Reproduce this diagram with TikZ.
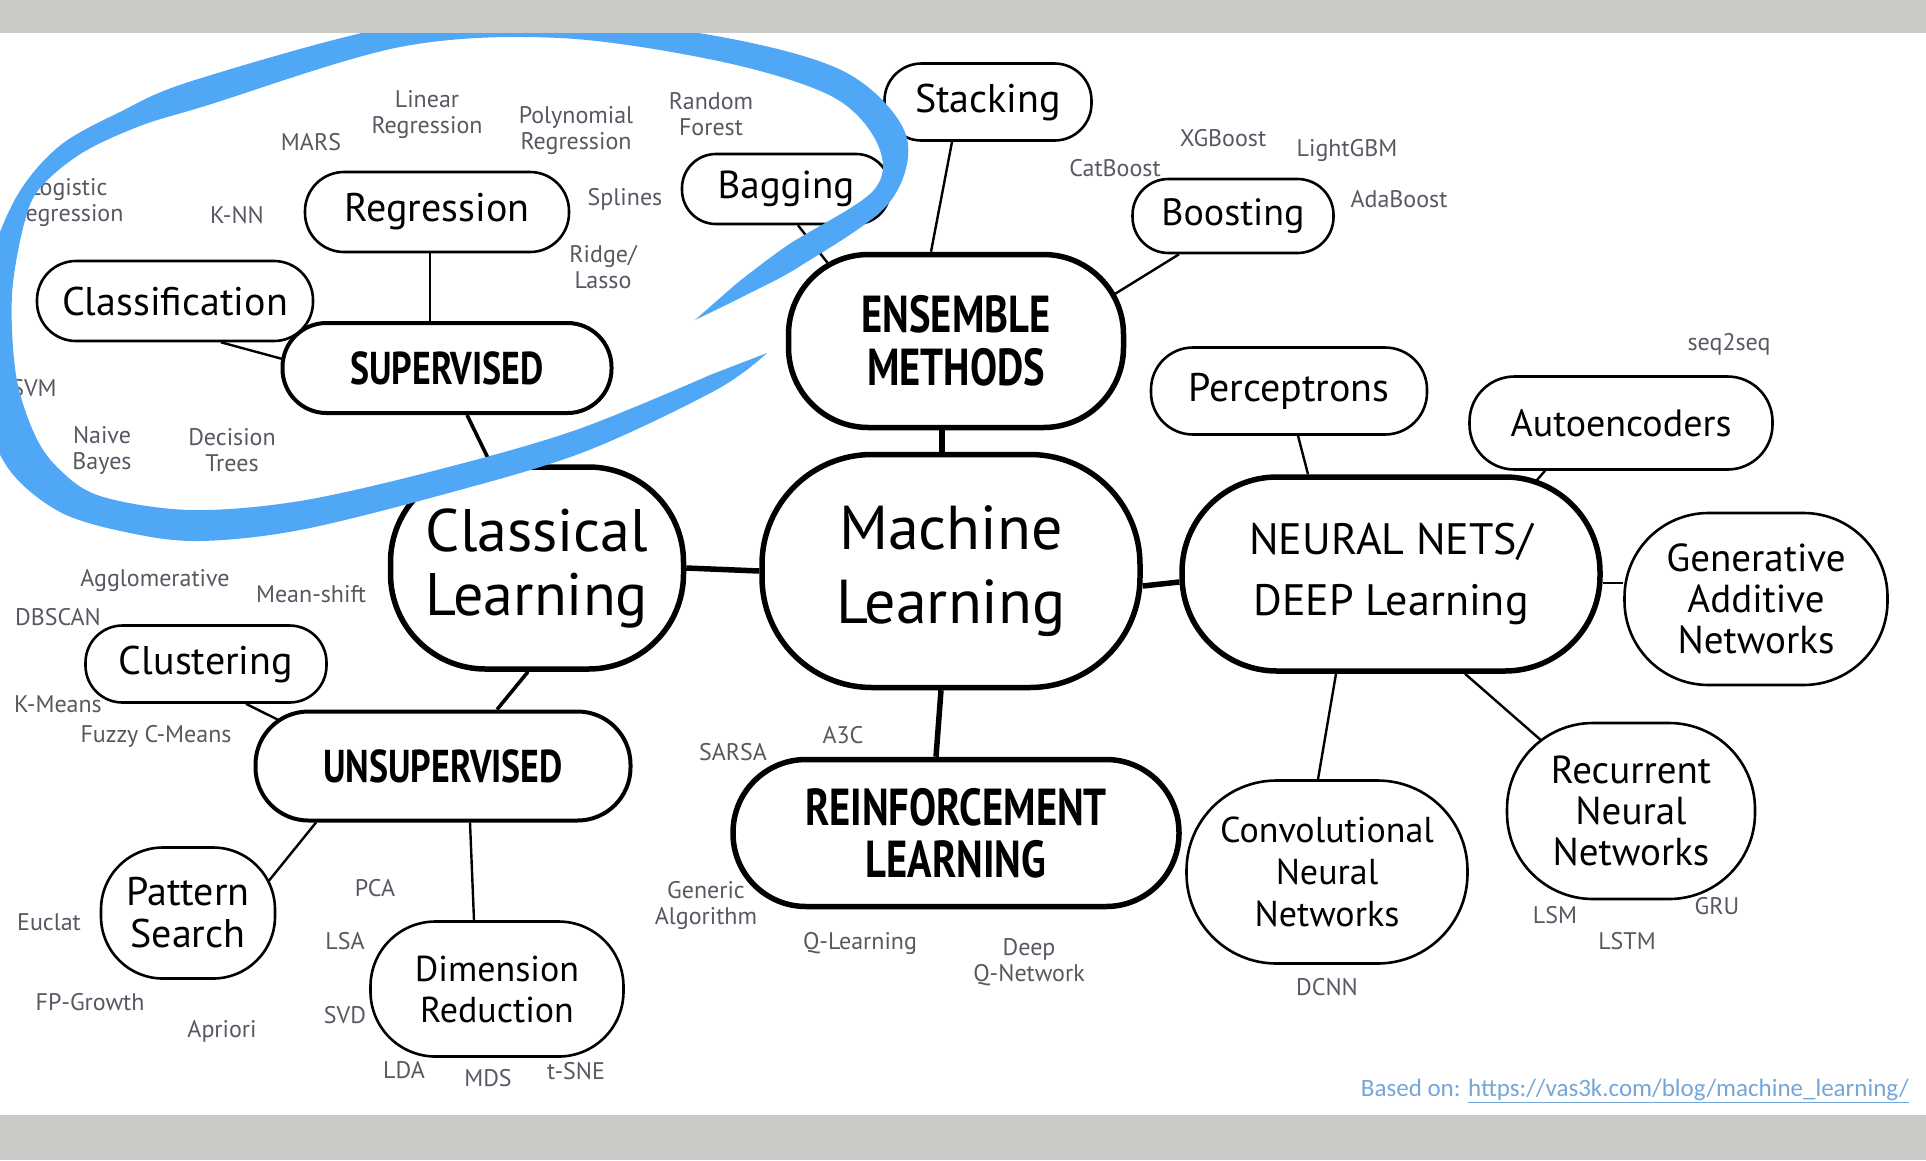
\documentclass[tikz,border=0pt]{standalone}
\usepackage{fontspec}
\setmainfont{PT Sans}
\newfontfamily\capsfont[FakeStretch=0.78]{PT Sans}
\newfontfamily\notefont{Carlito}
\usetikzlibrary{backgrounds}

\definecolor{leafgray}{RGB}{88,88,98}
\definecolor{swoosh}{RGB}{80,167,245}
\definecolor{frame}{RGB}{202,202,198}
\definecolor{linkblue}{RGB}{116,166,216}

\newcommand{\fs}[2]{\fontsize{#1}{#2}\selectfont}

\tikzset{
  bignode/.style={draw, line width=5.5pt, fill=white, align=center, inner sep=0pt},
  midnode/.style={draw, line width=4pt, fill=white, align=center, inner sep=0pt},
  subnode/.style={draw, line width=2.6pt, fill=white, align=center, inner sep=0pt},
  leaf/.style={text=leafgray, align=center, inner sep=0pt, font=\fs{24}{26}},
  bigline/.style={line width=5.5pt},
  midline/.style={line width=3.6pt},
  subline/.style={line width=2.4pt}
}

\begin{document}
\begin{tikzpicture}[x=1pt, y=-1pt]
\useasboundingbox (0,0) rectangle (1926,1160);

\node[bignode, minimum width=378pt, minimum height=233pt, rounded corners=110pt, font=\fs{62}{74}] (ml) at (951,571) {Machine\\Learning};
\node[bignode, minimum width=293pt, minimum height=202pt, rounded corners=95pt, font=\fs{60}{64}] (cl) at (537,568) {Classical\\Learning};
\node[bignode, minimum width=335pt, minimum height=173pt, rounded corners=80pt, font=\capsfont\bfseries\fs{52}{53}] (ens) at (956,341) {ENSEMBLE\\METHODS};
\node[bignode, minimum width=418pt, minimum height=194pt, rounded corners=95pt, font=\fs{44}{61}] (nn) at (1391,574) {NEURAL NETS/\\DEEP Learning};
\node[bignode, minimum width=446pt, minimum height=147pt, rounded corners=73pt, font=\capsfont\bfseries\fs{52}{52}] (rl) at (956,833) {REINFORCEMENT\\LEARNING};

\node[midnode, minimum width=329pt, minimum height=90pt, rounded corners=44pt, font=\capsfont\bfseries\fs{46}{50}] (sup) at (447,368) {SUPERVISED};
\node[midnode, minimum width=375pt, minimum height=109pt, rounded corners=53pt, font=\capsfont\bfseries\fs{46}{50}] (unsup) at (443,766) {UNSUPERVISED};

\node[subnode, minimum width=264pt, minimum height=80pt, rounded corners=39pt, font=\fs{40}{44}] (reg) at (437,212) {Regression};
\node[subnode, minimum width=276pt, minimum height=80pt, rounded corners=39pt, font=\fs{40}{44}] (clf) at (175,301) {Classification};
\node[subnode, minimum width=208pt, minimum height=70pt, rounded corners=34pt, font=\fs{39}{42}] (bag) at (786,189) {Bagging};
\node[subnode, minimum width=207pt, minimum height=77pt, rounded corners=37pt, font=\fs{40}{44}] (stack) at (988,102) {Stacking};
\node[subnode, minimum width=201pt, minimum height=74pt, rounded corners=36pt, font=\fs{38}{42}] (boost) at (1233,216) {Boosting};
\node[subnode, minimum width=276pt, minimum height=87pt, rounded corners=42pt, font=\fs{40}{44}] (perc) at (1289,391) {Perceptrons};
\node[subnode, minimum width=303pt, minimum height=93pt, rounded corners=45pt, font=\fs{38}{42}] (auto) at (1621,423) {Autoencoders};
\node[subnode, minimum width=263pt, minimum height=172pt, rounded corners=84pt, font=\fs{39}{41}] (gan) at (1756,599) {Generative\\Additive\\Networks};
\node[subnode, minimum width=248pt, minimum height=176pt, rounded corners=86pt, font=\fs{39}{41}] (rnn) at (1631,811) {Recurrent\\Neural\\Networks};
\node[subnode, minimum width=281pt, minimum height=183pt, rounded corners=90pt, font=\fs{36}{42}] (cnn) at (1327,872) {Convolutional\\Neural\\Networks};
\node[subnode, minimum width=241pt, minimum height=77pt, rounded corners=37pt, font=\fs{40}{44}] (clust) at (206,664) {Clustering};
\node[subnode, minimum width=174pt, minimum height=131pt, rounded corners=62pt, font=\fs{40}{42}] (pat) at (188,913) {Pattern\\Search};
\node[subnode, minimum width=253pt, minimum height=135pt, rounded corners=65pt, font=\fs{36}{41}] (dim) at (497,989) {Dimension\\Reduction};

\node[leaf] (linreg) at (427,115) {Linear\\Regression};
\node[leaf] (mars) at (311,142) {MARS};
\node[leaf] (polyreg) at (576,131) {Polynomial\\Regression};
\node[leaf] (rforest) at (711,114) {Random\\Forest};
\node[leaf] (logreg) at (68,203) {Logistic\\Regression};
\node[leaf] (knn) at (237,215) {K-NN};
\node[leaf] (splines) at (625,199) {Splines};
\node[leaf] (ridge) at (603,267) {Ridge/\\Lasso};
\node[leaf] (svm) at (34,388) {SVM};
\node[leaf] (nbayes) at (102,450) {Naive\\Bayes};
\node[leaf] (dtrees) at (232,450) {Decision\\Trees};
\node[leaf] (catb) at (1115,168) {CatBoost};
\node[leaf] (xgb) at (1223,138) {XGBoost};
\node[leaf] (lgbm) at (1347,150) {LightGBM};
\node[leaf] (adab) at (1399,199) {AdaBoost};
\node[leaf] (s2s) at (1729,344) {seq2seq};
\node[leaf] (aggl) at (155,580) {Agglomerative};
\node[leaf] (meanshift) at (311,594) {Mean-shift};
\node[leaf] (dbscan) at (58,617) {DBSCAN};
\node[leaf] (kmeans) at (58,704) {K-Means};
\node[leaf] (fcm) at (156,736) {Fuzzy C-Means};
\node[leaf] (euclat) at (49,922) {Euclat};
\node[leaf] (fpg) at (90,1002) {FP-Growth};
\node[leaf] (apriori) at (222,1031) {Apriori};
\node[leaf] (pca) at (375,888) {PCA};
\node[leaf] (lsa) at (345,941) {LSA};
\node[leaf] (svd) at (345,1015) {SVD};
\node[leaf] (lda) at (404,1070) {LDA};
\node[leaf] (mds) at (488,1078) {MDS};
\node[leaf] (tsne) at (576,1071) {t-SNE};
\node[leaf] (sarsa) at (733,752) {SARSA};
\node[leaf] (a3c) at (843,735) {A3C};
\node[leaf] (genalg) at (706,905) {Generic\\Algorithm};
\node[leaf] (qlearn) at (860,943) {Q-Learning};
\node[leaf] (dqn) at (1029,962) {Deep\\Q-Network};
\node[leaf] (dcnn) at (1327,987) {DCNN};
\node[leaf] (lsm) at (1555,915) {LSM};
\node[leaf] (lstm) at (1627,941) {LSTM};
\node[leaf] (gru) at (1717,906) {GRU};

\node[anchor=base east, inner sep=0pt, text=linkblue, font=\notefont\fs{25}{28}] (source) at (1909,1096) {Based on: \underline{https://vas3k.com/blog/machine\_learning/}};

\begin{scope}[on background layer]
\fill[white] (0,0) rectangle (1926,1160);
\fill[frame] (0,0) rectangle (1926,33);
\fill[frame] (0,1115) rectangle (1926,1160);
\draw[bigline] (cl.east) -- (ml.west);
\draw[bigline] ([shift={(-14,0)}]ens.south) -- ([shift={(-9,0)}]ml.north);
\draw[bigline] ([shift={(0,15)}]ml.east) -- ([shift={(0,8)}]nn.west);
\draw[bigline] ([shift={(-10,0)}]ml.south) -- ([shift={(-20,0)}]rl.north);
\draw[midline] ([shift={(20,0)}]sup.south) -- ([shift={(-46,0)}]cl.north);
\draw[midline] ([shift={(-9,0)}]cl.south) -- ([shift={(54,0)}]unsup.north);
\draw[subline] ([shift={(-7,0)}]reg.south) -- ([shift={(-17,0)}]sup.north);
\draw[subline] ([shift={(46,0)}]clf.south) -- ([shift={(2,-9)}]sup.west);
\draw[subline] ([shift={(12,0)}]bag.south) -- ([shift={(52,24)}]ens.north west);
\draw[subline] ([shift={(-36,0)}]stack.south) -- ([shift={(-25,0)}]ens.north);
\draw[subline] ([shift={(-54,0)}]boost.south) -- ([shift={(-24,50)}]ens.north east);
\draw[subline] ([shift={(9,0)}]perc.south) -- ([shift={(-83,0)}]nn.north);
\draw[subline] ([shift={(-76,0)}]auto.south) -- ([shift={(-73,14)}]nn.north east);
\draw[subline] ([shift={(0,9)}]nn.east) -- ([shift={(0,-16)}]gan.west);
\draw[subline] ([shift={(-55,0)}]nn.south) -- ([shift={(-9,0)}]cnn.north);
\draw[subline] ([shift={(74,0)}]nn.south) -- ([shift={(37,20)}]rnn.north west);
\draw[subline] ([shift={(40,0)}]clust.south) -- ([shift={(30,13)}]unsup.north west);
\draw[subline] ([shift={(-127,0)}]unsup.south) -- ([shift={(-11,39)}]pat.north east);
\draw[subline] ([shift={(27,0)}]unsup.south) -- ([shift={(-23,0)}]dim.north);
\end{scope}

% blue loop round the supervised part
\begin{scope}
\clip (0,33) rectangle (1926,1115);
\fill[swoosh] plot[smooth, tension=0.55] coordinates {(695,320) (744,296) (802,265) (889,203) (906,135) (847,73) (727,38) (560,18) (400,25) (195,80) (120,112) (57,148) (12,205) (-20,300) (-18,400) (8,468) (60,512) (130,533) (200,541) (300,530) (445,494) (584,452) (716,390) (767,353)}
  -- plot[smooth, tension=0.55] coordinates {(710,375) (576,430) (437,470) (300,501) (190,510) (100,496) (58,468) (34,433) (16,375) (12,295) (24,224) (40,188) (82,153) (140,126) (205,106) (400,47) (560,38) (723,62) (833,97) (878,145) (873,191) (788,245) (736,284)} -- cycle;
\end{scope}
\end{tikzpicture}
\end{document}
